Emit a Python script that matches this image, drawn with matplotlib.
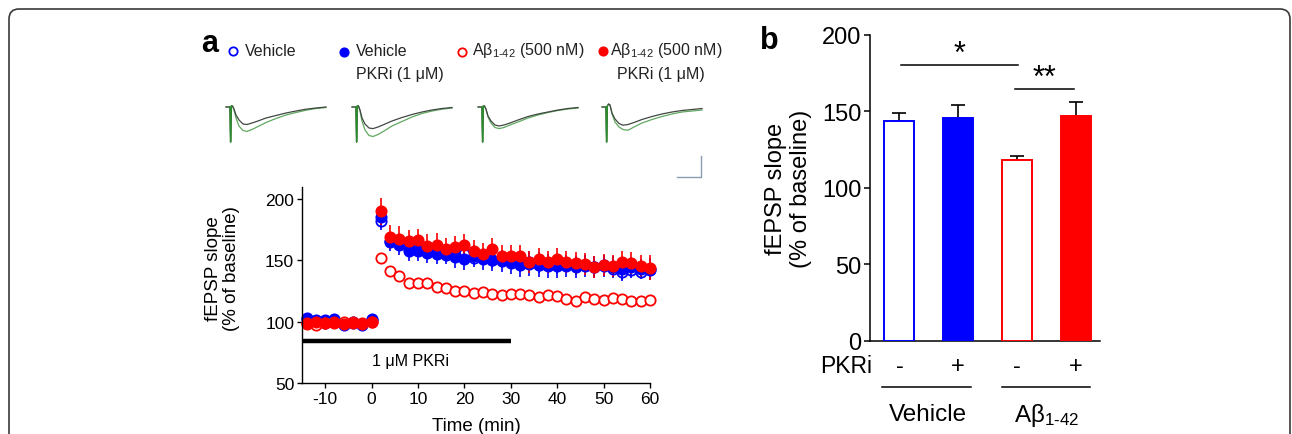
import matplotlib
matplotlib.use("Agg")
import matplotlib.pyplot as plt
from matplotlib.patches import FancyBboxPatch

plt.rcParams['font.family'] = ['Liberation Sans', 'DejaVu Sans']
plt.rcParams['mathtext.fontset'] = 'custom'
plt.rcParams['mathtext.rm'] = 'Liberation Sans'
plt.rcParams['mathtext.it'] = 'Liberation Sans:italic'
plt.rcParams['axes.unicode_minus'] = False

# ---------------- data ----------------
times = [-14, -12, -10, -8, -6, -4, -2, 0,
         2, 4, 6, 8, 10, 12, 14, 16, 18, 20, 22, 24, 26, 28, 30,
         32, 34, 36, 38, 40, 42, 44, 46, 48, 50, 52, 54, 56, 58, 60]

veh = [103, 100, 99, 101, 98, 100, 98, 102,
       182.4, 164.9, 163.5, 159.5, 159.5, 158.1, 156.8, 156.8, 154, 155.4, 151.9, 152.7, 150, 150, 148.6,
       147.3, 148.6, 146.5, 147.3, 145.9, 146.5, 145.4, 146.5, 144.6, 145.9, 143.2, 140.5, 141.9, 140.5, 141.9]
veh_err = [2, 2, 2, 2, 2, 2, 2, 2,
           8, 6, 6, 5, 5, 5, 6, 6, 6, 6, 6, 6, 6, 6, 6,
           7, 6, 7, 7, 7, 7, 7, 7, 7, 7, 7, 7, 6, 6, 6]

veh_pkr = [102, 101, 101, 102, 97, 99, 97, 101,
           185, 165.4, 162.2, 157.3, 157.3, 156.2, 155.4, 154.6, 152.7, 151.4, 153.5, 151.4, 150.5, 149.7, 148.1,
           146.5, 147.3, 146.5, 145.4, 145.4, 145.4, 144.3, 145.1, 144.3, 145.4, 144.3, 143.2, 144.6, 143.2, 143.2]
veh_pkr_err = [2, 2, 2, 2, 2, 2, 2, 2,
               9, 8, 8, 8, 8, 8, 8, 8, 9, 9, 9, 9, 9, 9, 9,
               10, 10, 10, 10, 10, 9, 9, 9, 9, 9, 9, 9, 8, 8, 9]

abeta = [99, 97, 99, 100, 100, 99, 98, 100,
         152.2, 141.1, 137, 131.9, 131.4, 131.4, 128.4, 127.8, 125.1, 124.9, 123.2, 124.1, 122.4, 121.6, 122.4,
         122.2, 121.6, 119.7, 121.6, 121.1, 118.4, 116.5, 120.5, 118.1, 117.8, 119.5, 118.4, 116.5, 116.5, 117.3]
abeta_err = [1.5, 1.5, 1.5, 1.5, 1.5, 1.5, 1.5, 1.5,
             3, 2.5, 2.5, 2, 2, 2, 2, 2, 2, 2, 2, 2, 2, 2, 2,
             2, 2, 2, 2, 2, 2, 2, 2, 2, 2, 2, 2, 2, 2, 2]

abeta_pkr = [98, 100, 99, 99, 98, 100, 99, 100,
             190, 168.9, 167.6, 166, 166.2, 161.4, 162.2, 159.5, 160.8, 162.2, 157.3, 155.4, 158.9, 153.2, 153.2,
             153.2, 148.6, 150.8, 148.6, 150.8, 148.6, 148.1, 147.3, 144.6, 146.5, 145.1, 148.6, 148.1, 145.1, 144]
abeta_pkr_err = [2, 2, 2, 2, 2, 2, 2, 2,
                 11, 10, 10, 9, 9, 10, 10, 9, 9, 9, 9, 9, 9, 9, 9,
                 9, 9, 9, 9, 9, 9, 9, 9, 9, 9, 9, 9, 9, 9, 10]

pkri_period = [-15, 30]
pkri_level = 84.5

AB = 'Aβ$_{\\mathregular{1\\text{-}42}}$'
legend_line1 = ['Vehicle', 'Vehicle', AB + ' (500 nM)', AB + ' (500 nM)']
legend_line2 = [None, 'PKRi (1 μM)', None, 'PKRi (1 μM)']

bar_means = [143.6, 145.5, 118.1, 146.9]
bar_sem = [5.2, 8.9, 3.0, 9.1]
bar_pkri = ['-', '+', '-', '+']
group_labels = ['Vehicle', 'Aβ$_{\\mathregular{1\\text{-}42}}$']

# example traces (shape only, relative time 0..100, downward deflection)
trace_t = [0, 4, 4.6, 5.4, 6.5, 8, 10, 13, 17, 21, 26, 32, 40, 50, 60, 70, 80, 90, 100]
trace_black = [
    [0, 0, 35, -1, -1, 2, 8, 13, 17, 17.5, 16, 14, 11, 8.5, 6, 4, 2.2, 1, 0],
    [0, 0, 35, -1, -1, 3, 11, 17, 21, 21.6, 20, 17.5, 14, 10.5, 7.5, 5, 3, 1.5, 0.5],
    [0, 0, 35, -1, -1, 2, 9, 14, 18, 19, 18, 16, 13, 9.5, 7, 5, 3, 1.5, 0.5],
    [0, 0, 35, -1, -3, -2, 6, 12, 16.5, 18.2, 17.5, 15.5, 12.5, 9.5, 7, 5, 3.5, 2.5, 1.5],
]
trace_green = [
    [0, 0, 35, -1, -1, 3, 11, 19, 23.5, 24.4, 22.5, 19.5, 15.5, 11.5, 8, 5.5, 3.2, 1.5, 0.5],
    [0, 0, 35, -1, -1, 4, 14, 23, 28.5, 29.5, 27.5, 24, 19, 14.5, 10, 6.5, 4, 2.2, 1],
    [0, 0, 35, -1, -1, 2.5, 10, 16, 20.5, 21.6, 20.5, 18, 15, 11, 8, 5.5, 3.5, 2, 1],
    [0, 0, 35, -1, -3, -2, 7, 15, 20, 22.5, 23.3, 20, 16, 12.5, 9.5, 7, 5, 4, 3],
]

# ---------------- figure ----------------
W, H = 1292, 435
fig = plt.figure(figsize=(W / 100, H / 100), dpi=100)

# overlay in pixel coordinates
ov = fig.add_axes([0, 0, 1, 1], zorder=0)
ov.set_xlim(0, W)
ov.set_ylim(H, 0)
ov.axis('off')
ov.patch.set_alpha(0)
frame = FancyBboxPatch((9, 10), 1281, 460, boxstyle="round,pad=0,rounding_size=10",
                       fill=False, edgecolor='#3a3a3a', linewidth=1.2, clip_on=False)
ov.add_patch(frame)

trace_x0 = [226, 352, 478, 602]
trace_y0 = 108
trace_w = 1.0
for i in range(4):
    xs = [trace_x0[i] + t * trace_w for t in trace_t]
    ov.plot(xs, [trace_y0 + v for v in trace_green[i]], color='#5fa85f', lw=0.9)
    ov.plot(xs, [trace_y0 + v for v in trace_black[i]], color='#404840', lw=0.9)
    ov.plot(xs[1:4], [trace_y0 + v for v in trace_green[i][1:4]], color='#2e8b2e', lw=1.0)
# scale bar
ov.plot([677, 701, 701], [178, 178, 157], color='#8a9bb0', lw=1.0)

# legend markers / texts
leg_mk = [(233, 52, 'blue', 'none'), (344, 53, 'blue', 'blue'),
          (462, 53, 'red', 'none'), (603, 52, 'red', 'red')]
leg_tx1 = [245, 356, 472, 610]
leg_tx2 = [None, 356, None, 617]
for (mx, my, ec, fc), x1, x2, l1, l2 in zip(leg_mk, leg_tx1, leg_tx2, legend_line1, legend_line2):
    ov.plot([mx], [my], 'o', ms=6, mec=ec, mfc=fc, mew=1.3)
    ov.text(x1, 51, l1, fontsize=11.5, color='#222222', va='center', ha='left')
    if l2:
        ov.text(x2, 74, l2, fontsize=11.5, color='#222222', va='center', ha='left')

fig.text(201 / W, 1 - 29 / H, 'a', fontsize=22, fontweight='bold', va='top', ha='left')
fig.text(760 / W, 1 - 26 / H, 'b', fontsize=22, fontweight='bold', va='top', ha='left')

# ---------------- panel a ----------------
axa = fig.add_axes([302 / W, (H - 384) / H, 348 / W, (384 - 187.7) / H], zorder=2)
axa.patch.set_alpha(0)
series = [
    (veh, veh_err, 'blue', 'none'),
    (veh_pkr, veh_pkr_err, 'blue', 'blue'),
    (abeta, abeta_err, 'red', 'white'),
    (abeta_pkr, abeta_pkr_err, 'red', 'red'),
]
for vals, err, col, fc in series:
    axa.errorbar(times, vals, yerr=err, fmt='o', ms=7.4, mec=col, mfc=fc, mew=1.3,
                 ecolor=col, elinewidth=1.2, capsize=0, clip_on=False)
axa.plot(pkri_period, [pkri_level, pkri_level], color='black', lw=3.2, solid_capstyle='butt', clip_on=False)
axa.text(8.3, 68, '1 μM PKRi', fontsize=11.5, ha='center', va='center')
axa.set_xlim(-15, 60)
axa.set_ylim(50, 210)
axa.set_xticks([-10, 0, 10, 20, 30, 40, 50, 60])
axa.set_yticks([50, 100, 150, 200])
for s in ['top', 'right']:
    axa.spines[s].set_visible(False)
for s in ['left', 'bottom']:
    axa.spines[s].set_linewidth(1.0)
axa.tick_params(direction='out', length=3.6, width=1.0, labelsize=12.5, pad=2)
axa.set_xlabel('Time (min)', fontsize=13.5, labelpad=8)
axa.set_ylabel('fEPSP slope\n(% of baseline)', fontsize=13.5, linespacing=1.1)
axa.yaxis.set_label_coords(-0.178, 0.59)

# ---------------- panel b ----------------
axb = fig.add_axes([870 / W, (H - 342) / H, 230 / W, (342 - 35.7) / H], zorder=2)
axb.patch.set_alpha(0)
bar_x = [0, 1, 2, 3]
bar_face = ['white', 'blue', 'white', 'red']
bar_edge = ['blue', 'blue', 'red', 'red']
axb.bar(bar_x, bar_means, width=0.51, color=bar_face, edgecolor=bar_edge, linewidth=1.4, zorder=3)
axb.errorbar(bar_x, bar_means, yerr=[[0] * 4, bar_sem], fmt='none', ecolor='black',
             elinewidth=1.2, capsize=5, capthick=1.2, zorder=2)
axb.set_xlim(-0.5, 3.41)
axb.set_ylim(0, 200)
axb.set_yticks([0, 50, 100, 150, 200])
axb.set_xticks([])
for s in ['top', 'right']:
    axb.spines[s].set_visible(False)
for s in ['left', 'bottom']:
    axb.spines[s].set_linewidth(1.1)
axb.tick_params(direction='out', length=4, width=1.1, labelsize=17, pad=2)
axb.set_ylabel('fEPSP slope\n(% of baseline)', fontsize=17, linespacing=1.2)
axb.yaxis.set_label_coords(-0.252, 0.5)

# significance
axb.plot([0.02, 2.015], [180, 180], color='black', lw=1.1)
axb.text(1.03, 177.5, '*', fontsize=22, ha='center', va='bottom')
axb.plot([1.96, 2.97], [164.7, 164.7], color='black', lw=1.1)
axb.text(2.47, 162, '**', fontsize=22, ha='center', va='bottom')

# PKRi row
axb.text(-0.47, -16.3, 'PKRi', fontsize=16.5, ha='right', va='center', clip_on=False)
for x, s in zip(bar_x, bar_pkri):
    axb.text(x, -16.3, s, fontsize=17, ha='center', va='center', clip_on=False)
axb.plot([-0.30, 1.21], [-29.9, -29.9], color='black', lw=1.1, clip_on=False)
axb.plot([1.74, 3.24], [-29.9, -29.9], color='black', lw=1.1, clip_on=False)
axb.text(0.49, -47.7, group_labels[0], fontsize=17.5, ha='center', va='center', clip_on=False)
axb.text(2.50, -47.7, group_labels[1], fontsize=17.5, ha='center', va='center', clip_on=False)

fig.savefig('out.png', dpi=100)
